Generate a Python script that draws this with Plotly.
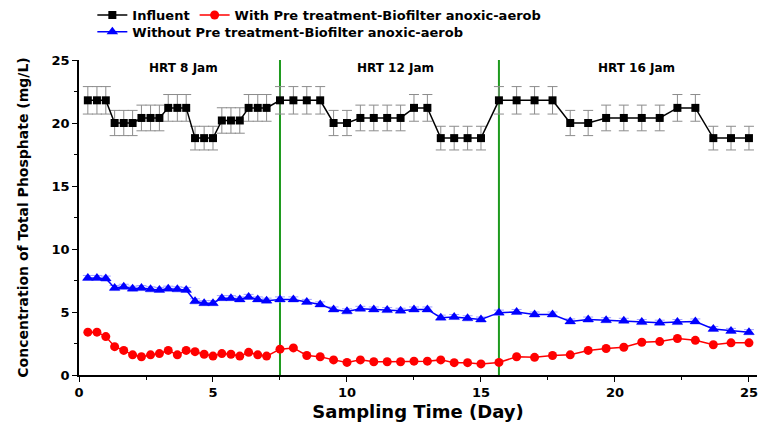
import plotly.graph_objects as go

days = [0.33, 0.67, 1.0, 1.33, 1.67, 2.0, 2.33, 2.67, 3.0, 3.33, 3.67, 4.0, 4.33, 4.67,
        5.0, 5.33, 5.67, 6.0, 6.33, 6.67, 7.0,
        7.5, 8.0, 8.5, 9.0, 9.5, 10.0, 10.5, 11.0, 11.5, 12.0, 12.5, 13.0, 13.5, 14.0, 14.5, 15.0,
        15.67, 16.33, 17.0, 17.67, 18.33, 19.0, 19.67, 20.33, 21.0, 21.67, 22.33, 23.0, 23.67, 24.33, 25.0]

influent = [21.8, 21.8, 21.8, 20.0, 20.0, 20.0, 20.4, 20.4, 20.4, 21.2, 21.2, 21.2, 18.8, 18.8, 18.8,
            20.2, 20.2, 20.2, 21.2, 21.2, 21.2,
            21.8, 21.8, 21.8, 21.8, 20.0, 20.0, 20.4, 20.4, 20.4, 20.4, 21.2, 21.2, 18.8, 18.8, 18.8, 18.8,
            21.8, 21.8, 21.8, 21.8, 20.0, 20.0, 20.4, 20.4, 20.4, 20.4, 21.2, 21.2, 18.8, 18.8, 18.8]

with_pre = [3.4, 3.4, 3.05, 2.25, 1.95, 1.6, 1.45, 1.6, 1.7, 1.95, 1.6, 1.95, 1.85, 1.65, 1.5,
            1.7, 1.65, 1.5, 1.8, 1.6, 1.5,
            2.05, 2.15, 1.55, 1.45, 1.2, 1.0, 1.2, 1.05, 1.05, 1.05, 1.1, 1.1, 1.2, 0.98, 0.98, 0.88,
            1.0, 1.45, 1.4, 1.55, 1.6, 1.95, 2.1, 2.2, 2.6, 2.65, 2.9, 2.75, 2.4, 2.55, 2.55]

without_pre = [7.7, 7.7, 7.65, 6.9, 7.0, 6.85, 6.9, 6.8, 6.75, 6.85, 6.8, 6.75, 5.85, 5.7, 5.7,
               6.1, 6.1, 6.0, 6.2, 6.0, 5.9,
               6.0, 6.0, 5.8, 5.6, 5.2, 5.05, 5.25, 5.2, 5.15, 5.1, 5.2, 5.2, 4.55, 4.6, 4.5, 4.4,
               4.95, 5.0, 4.8, 4.8, 4.25, 4.4, 4.35, 4.3, 4.2, 4.15, 4.2, 4.25, 3.65, 3.5, 3.4]

influent_err_pct = 5
without_pre_err = 0.2

hrt_boundaries = [7.5, 15.67]
hrt_labels = ["HRT 8 Jam", "HRT 12 Jam", "HRT 16 Jam"]
hrt_label_x = [3.9, 11.8, 20.8]
hrt_label_y = 24.4

x_ticks = [0, 5, 10, 15, 20, 25]
y_ticks = [0, 5, 10, 15, 20, 25]
minor_ticks = [2.5, 7.5, 12.5, 17.5, 22.5]

FONT = "DejaVu Sans"
legend_font = dict(family=FONT, size=13, color="black", weight="bold")

fig = go.Figure()
fig.add_trace(go.Scatter(
    x=days, y=influent, mode="lines+markers", name="Influent", legend="legend",
    line=dict(color="black", width=1.5),
    marker=dict(symbol="square", size=8, color="black"),
    error_y=dict(type="percent", value=influent_err_pct, color="#8c8c8c", thickness=1, width=5),
))
fig.add_trace(go.Scatter(
    x=days, y=with_pre, mode="lines+markers", name="With Pre treatment-Biofilter anoxic-aerob",
    legend="legend",
    line=dict(color="red", width=1.5),
    marker=dict(symbol="circle", size=9, color="red"),
))
fig.add_trace(go.Scatter(
    x=days, y=without_pre, mode="lines+markers", name="Without Pre treatment-Biofilter anoxic-aerob",
    legend="legend2",
    line=dict(color="blue", width=1.5),
    marker=dict(symbol="triangle-up", size=10, color="blue"),
    error_y=dict(type="constant", value=without_pre_err, color="#a0a0ff", thickness=1, width=5),
))

for b in hrt_boundaries:
    fig.add_shape(type="line", xref="x", yref="y", x0=b, x1=b, y0=0, y1=25,
                  line=dict(color="#1e9a1e", width=2), layer="below")

for lx, lt in zip(hrt_label_x, hrt_labels):
    fig.add_annotation(x=lx, y=hrt_label_y, text=lt, showarrow=False, xref="x", yref="y",
                       font=dict(family=FONT, size=12, color="black", weight="bold"))

fig.update_layout(
    width=760, height=433,
    margin=dict(l=79, r=3, t=60, b=58),
    paper_bgcolor="white", plot_bgcolor="white",
    showlegend=True,
    legend=dict(orientation="h", xref="container", yref="container", x=0.1215, y=1.0,
                xanchor="left", yanchor="top", font=legend_font,
                bgcolor="rgba(0,0,0,0)", tracegroupgap=0),
    legend2=dict(orientation="h", xref="container", yref="container", x=0.1215, y=0.961,
                 xanchor="left", yanchor="top", font=legend_font,
                 bgcolor="rgba(0,0,0,0)", tracegroupgap=0),
    xaxis=dict(range=[0, 25.3], tickvals=x_ticks, showgrid=False, zeroline=False,
               showline=True, linecolor="black", linewidth=1.5,
               ticks="outside", ticklen=5, tickwidth=1.2, tickcolor="black",
               minor=dict(tickvals=minor_ticks, ticks="outside", ticklen=3,
                          tickcolor="black", tickwidth=1),
               tickfont=dict(family=FONT, size=13, color="black", weight="bold"),
               title=dict(text="Sampling Time (Day)", standoff=6,
                          font=dict(family=FONT, size=18, color="black", weight="bold"))),
    yaxis=dict(range=[0, 25], tickvals=y_ticks, showgrid=False, zeroline=False,
               showline=True, linecolor="black", linewidth=1.5,
               ticks="outside", ticklen=5, tickwidth=1.2, tickcolor="black",
               minor=dict(tickvals=minor_ticks, ticks="outside", ticklen=3,
                          tickcolor="black", tickwidth=1),
               tickfont=dict(family=FONT, size=13, color="black", weight="bold"),
               title=dict(text="Concentration of Total Phosphate (mg/L)", standoff=20,
                          font=dict(family=FONT, size=14, color="black", weight="bold"))),
)

fig.write_html("out.html")
